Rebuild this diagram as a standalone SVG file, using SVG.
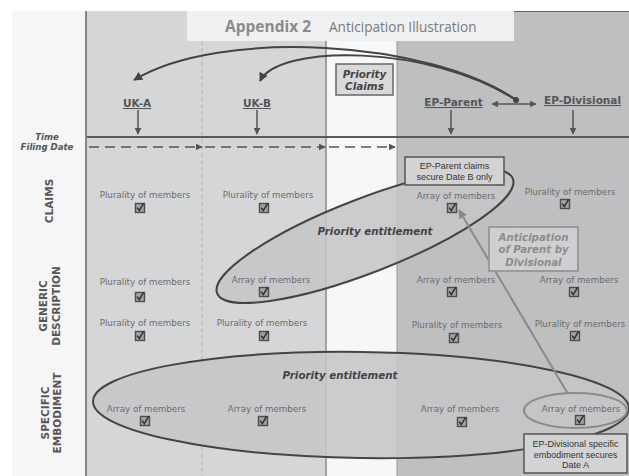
<svg xmlns="http://www.w3.org/2000/svg" xmlns:xlink="http://www.w3.org/1999/xlink" width="629" height="476" viewBox="0 0 629 476">
<style>
.cell{font-family:"DejaVu Sans",Verdana,sans-serif;font-size:8.7px;fill:#6b6b6b;text-anchor:middle}
.hdr{font-family:"DejaVu Sans",Verdana,sans-serif;font-size:10.5px;font-weight:bold;fill:#555;text-anchor:middle;text-decoration:underline}
.row{font-family:"DejaVu Sans",Verdana,sans-serif;font-size:10.5px;font-weight:bold;fill:#555;text-anchor:middle}
.bi{font-family:"DejaVu Sans",Verdana,sans-serif;font-weight:bold;font-style:italic;text-anchor:middle}
.note{font-family:"Liberation Sans",Arial,sans-serif;font-size:9px;fill:#333;text-anchor:middle}
.arr{stroke:#555;stroke-width:1.5;fill:none}
.curve{stroke:#444;stroke-width:2;fill:none}
</style>
<defs>
<marker id="ah" viewBox="0 0 10 10" refX="9" refY="5" markerWidth="7" markerHeight="7" markerUnits="userSpaceOnUse" orient="auto-start-reverse"><path d="M0,0 L10,5 L0,10 z" fill="#555"/></marker>
<marker id="ahg" viewBox="0 0 10 10" refX="9" refY="5" markerWidth="9" markerHeight="9" markerUnits="userSpaceOnUse" orient="auto"><path d="M0,0 L10,5 L0,10 z" fill="#8a8a8a"/></marker>
<marker id="ahc" viewBox="0 0 10 10" refX="9" refY="5" markerWidth="9" markerHeight="9" markerUnits="userSpaceOnUse" orient="auto"><path d="M0,0 L10,5 L0,10 z" fill="#444"/></marker>
<g id="cb"><rect x="-4.5" y="-4.5" width="9" height="9" fill="#a3a3a5" stroke="#4d4d4d" stroke-width="1.4"/><path d="M-2.8,-0.4 L-0.7,2.6 L3.6,-4.6" fill="none" stroke="#333" stroke-width="1.6"/></g>
</defs>

<g id="background">
<rect x="0" y="0" width="629" height="476" fill="#ffffff"/>
<rect x="12" y="11" width="617" height="465" fill="#f6f6f6"/>
<rect x="86" y="11" width="240" height="465" fill="#d5d6d8"/>
<rect x="326" y="11" width="71" height="465" fill="#f7f7f7"/>
<rect x="397" y="11" width="232" height="465" fill="#bebfc1"/>
<line x1="514" y1="11.5" x2="629" y2="11.5" stroke="#666" stroke-width="1"/>
<line x1="86" y1="11" x2="86" y2="476" stroke="#666" stroke-width="1.5"/>
<line x1="326" y1="41" x2="326" y2="476" stroke="#8a8a8a" stroke-width="1.5"/>
<line x1="397" y1="41" x2="397" y2="476" stroke="#9a9a9a" stroke-width="1"/>
<line x1="202" y1="41" x2="202" y2="476" stroke="#b2b2b4" stroke-width="1" stroke-dasharray="4 3"/>
<line x1="514" y1="41" x2="514" y2="476" stroke="#c8c8ca" stroke-width="1" stroke-dasharray="4 3"/>
</g>

<g id="title">
<rect x="187" y="11" width="327" height="30" fill="#eff0f2"/>
<text x="225" y="32" font-family="'Open Sans',sans-serif" font-size="15.5" font-weight="bold" fill="#8a8a8a">Appendix 2</text>
<text x="329" y="32" font-family="'Open Sans',sans-serif" font-size="13.6" fill="#7a7a7a">Anticipation Illustration</text>
</g>

<g id="ellipses">
<ellipse cx="365" cy="236" rx="158.6" ry="37" transform="rotate(-21.2 365 236)" fill="#c6c6c8" fill-opacity="0.88" stroke="#444" stroke-width="2"/>
<ellipse cx="361" cy="405" rx="268" ry="53" transform="rotate(0.8 361 405)" fill="#c6c6c8" fill-opacity="0.88" stroke="#444" stroke-width="2"/>
<ellipse cx="575.5" cy="410.5" rx="51.5" ry="17.5" fill="none" stroke="#8a8a8a" stroke-width="2"/>
</g>

<g id="time-labels">
<text class="bi" x="47" y="140" font-size="8.6" fill="#555">Time</text>
<text class="bi" x="47" y="150" font-size="8.6" fill="#555">Filing Date</text>
</g>

<g id="row-claims"><text class="row" transform="translate(53 201) rotate(-90)">CLAIMS</text></g>
<g id="row-generic"><text class="row" transform="translate(47 306) rotate(-90)">GENERIC</text><text class="row" transform="translate(60 306) rotate(-90)">DESCRIPTION</text></g>
<g id="row-specific"><text class="row" transform="translate(49 413) rotate(-90)">SPECIFIC</text><text class="row" transform="translate(61 413) rotate(-90)">EMBODIMENT</text></g>

<g id="connectors">
<line x1="87" y1="137" x2="629" y2="137" stroke="#5a5a5a" stroke-width="2"/>
<line x1="89" y1="147" x2="202" y2="147" class="arr" stroke-width="1.8" stroke-dasharray="10 6" marker-end="url(#ah)"/>
<line x1="205" y1="147" x2="325" y2="147" class="arr" stroke-width="1.8" stroke-dasharray="10 6" marker-end="url(#ah)"/>
<line x1="329" y1="147" x2="395" y2="147" class="arr" stroke-width="1.8" stroke-dasharray="10 6" marker-end="url(#ah)"/>
<line x1="138" y1="110" x2="138" y2="134" class="arr" marker-end="url(#ah)"/>
<line x1="257" y1="110" x2="257" y2="134" class="arr" marker-end="url(#ah)"/>
<line x1="451" y1="110" x2="451" y2="134" class="arr" marker-end="url(#ah)"/>
<line x1="573" y1="110" x2="573" y2="134" class="arr" marker-end="url(#ah)"/>
<line x1="492" y1="104" x2="536" y2="104" class="arr" marker-start="url(#ah)" marker-end="url(#ah)"/>
<path d="M516,100 C430,40 220,28 134,80" class="curve" marker-end="url(#ahc)"/>
<path d="M516,100 C430,44 278,44 260,81" class="curve" marker-end="url(#ahc)"/>
<circle cx="516" cy="100" r="3" fill="#444"/>
<line x1="568" y1="394" x2="459" y2="210" stroke="#8a8a8a" stroke-width="2" marker-end="url(#ahg)"/>
</g>

<g id="uk-a"><text class="hdr" x="137" y="107">UK-A</text></g>
<g id="uk-b"><text class="hdr" x="257" y="107">UK-B</text></g>
<g id="ep-parent"><text class="hdr" x="453.5" y="106">EP-Parent</text></g>
<g id="ep-divisional"><text class="hdr" x="582.5" y="104">EP-Divisional</text></g>

<g id="priority-claims">
<rect x="336" y="64" width="57" height="31" fill="#d9d9db" stroke="#666" stroke-width="1.5"/>
<text class="bi" x="364.5" y="78" font-size="10.4" fill="#444">Priority</text>
<text class="bi" x="364.5" y="90" font-size="10.4" fill="#444">Claims</text>
</g>

<g id="entitlement-claims"><text class="bi" x="375" y="235" font-size="10.3" fill="#444">Priority entitlement</text></g>
<g id="entitlement-specific"><text class="bi" x="340" y="379" font-size="10.3" fill="#444">Priority entitlement</text></g>

<g id="cells">
<text class="cell" x="145" y="198">Plurality of members</text><use xlink:href="#cb" x="140" y="208"/>
<text class="cell" x="268" y="198">Plurality of members</text><use xlink:href="#cb" x="264" y="208"/>
<text class="cell" x="456" y="199">Array of members</text><use xlink:href="#cb" x="452" y="208"/>
<text class="cell" x="570" y="195">Plurality of members</text><use xlink:href="#cb" x="565" y="204"/>

<text class="cell" x="145" y="285">Plurality of members</text><use xlink:href="#cb" x="140" y="297"/>
<text class="cell" x="271" y="283">Array of members</text><use xlink:href="#cb" x="264" y="292"/>
<text class="cell" x="456" y="283">Array of members</text><use xlink:href="#cb" x="452" y="292"/>
<text class="cell" x="579" y="283">Array of members</text><use xlink:href="#cb" x="574" y="292"/>

<text class="cell" x="145" y="326">Plurality of members</text><use xlink:href="#cb" x="140" y="336"/>
<text class="cell" x="262" y="326">Plurality of members</text><use xlink:href="#cb" x="264" y="336"/>
<text class="cell" x="457" y="328">Plurality of members</text><use xlink:href="#cb" x="454" y="338"/>
<text class="cell" x="580" y="327">Plurality of members</text><use xlink:href="#cb" x="575" y="336"/>

<text class="cell" x="146" y="412">Array of members</text><use xlink:href="#cb" x="145" y="421"/>
<text class="cell" x="267" y="412">Array of members</text><use xlink:href="#cb" x="263" y="421"/>
<text class="cell" x="460" y="412">Array of members</text><use xlink:href="#cb" x="462" y="422"/>
<text class="cell" x="581" y="412">Array of members</text><use xlink:href="#cb" x="580" y="420"/>
</g>

<g id="parent-note">
<rect x="405" y="157" width="99" height="28" fill="#d3d3d5" stroke="#555" stroke-width="1.5"/>
<text class="note" x="454.5" y="169">EP-Parent claims</text>
<text class="note" x="454.5" y="180">secure Date B only</text>
</g>

<g id="anticipation-note">
<rect x="489" y="227" width="89" height="44" fill="#cfcfd1" stroke="#9a9a9a" stroke-width="2"/>
<text class="bi" x="533.5" y="241" font-size="10.2" fill="#8c8c8c">Anticipation</text>
<text class="bi" x="533.5" y="253" font-size="10.2" fill="#8c8c8c">of Parent by</text>
<text class="bi" x="533.5" y="266" font-size="10.2" fill="#8c8c8c">Divisional</text>
</g>

<g id="divisional-note">
<rect x="524" y="434" width="103" height="39" fill="#d3d3d5" stroke="#555" stroke-width="1.5"/>
<text class="note" x="575.5" y="447">EP-Divisional specific</text>
<text class="note" x="575.5" y="457.5">embodiment secures</text>
<text class="note" x="575.5" y="468">Date A</text>
</g>
</svg>
